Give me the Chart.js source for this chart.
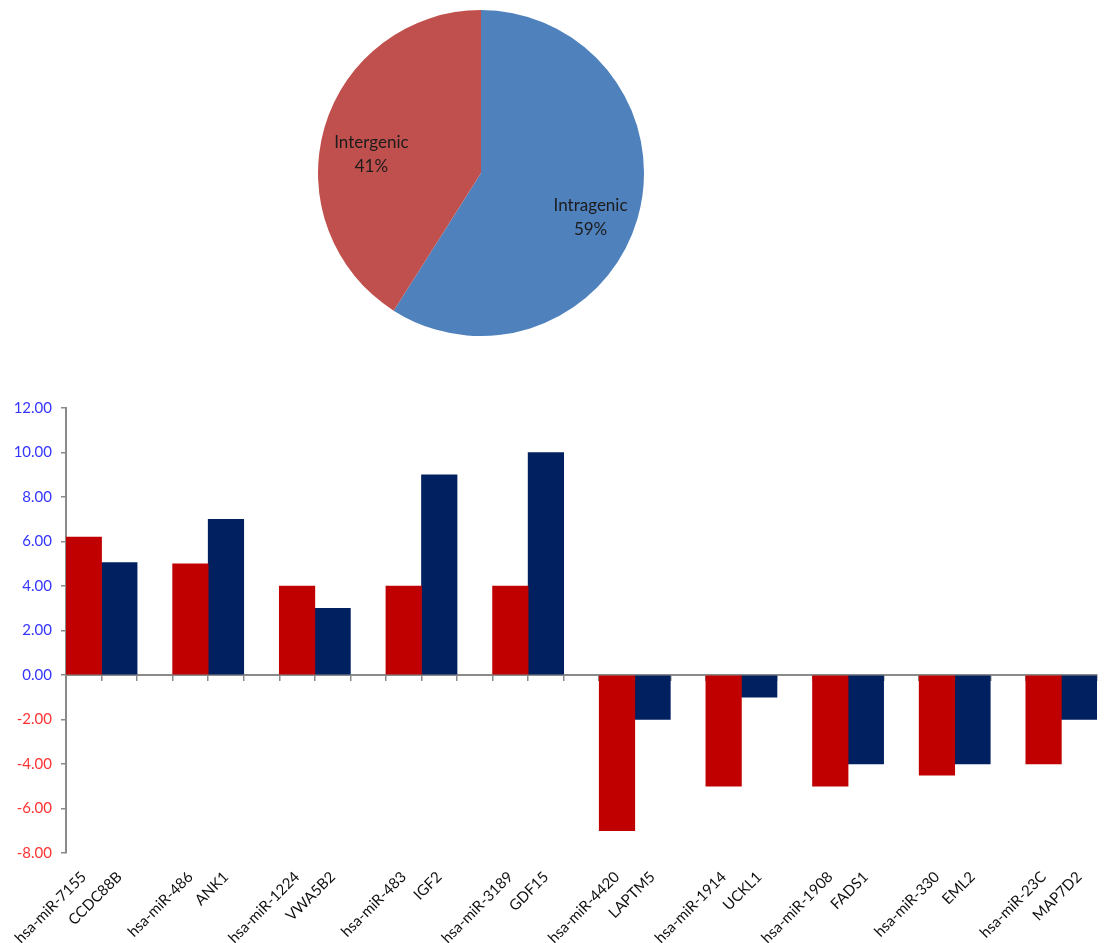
<!DOCTYPE html>
<html>
<head>
<meta charset="utf-8">
<title>miRNA genomic location and expression</title>
<script src="https://cdn.jsdelivr.net/npm/chart.js@4.4.1/dist/chart.umd.min.js"></script>
<style>
  html, body { margin: 0; padding: 0; background: #ffffff; }
  body { width: 1107px; height: 943px; position: relative; overflow: hidden; }
  #pieBox { position: absolute; left: 318px; top: 10px; width: 326px; height: 326px; }
  #barBox { position: absolute; left: 0; top: 390px; width: 1107px; height: 553px; }
</style>
</head>
<body>
<div id="pieBox"><canvas id="pie"></canvas></div>
<div id="barBox"><canvas id="bars"></canvas></div>
<script>
// Genomic location of the miRNAs
const locationLabels = ['Intragenic', 'Intergenic'];
const locationShares = [59, 41];

// Each miRNA with its host / target gene
const mirNames = ['hsa-miR-7155', 'hsa-miR-486', 'hsa-miR-1224', 'hsa-miR-483', 'hsa-miR-3189',
                  'hsa-miR-4420', 'hsa-miR-1914', 'hsa-miR-1908', 'hsa-miR-330', 'hsa-miR-23C'];
const geneNames = ['CCDC88B', 'ANK1', 'VWA5B2', 'IGF2', 'GDF15',
                   'LAPTM5', 'UCKL1', 'FADS1', 'EML2', 'MAP7D2'];
const mirValues  = [6.2, 5, 4, 4, 4, -7, -5, -5, -4.5, -4];
const geneValues = [5.05, 7, 3, 9, 10, -2, -1, -4, -4, -2];

// y-axis range
const yMin = -8, yMax = 12, yStep = 2;

const FONT = 'Lato, "Open Sans", sans-serif';

// Category slots: miRNA, gene, empty spacer ... (no spacer after the last pair)
const slotLabels = [];
const mirSeries = [];
const geneSeries = [];
mirNames.forEach((m, i) => {
  slotLabels.push(m, geneNames[i]);
  mirSeries.push(mirValues[i], null);
  geneSeries.push(null, geneValues[i]);
  if (i < mirNames.length - 1) {
    slotLabels.push('');
    mirSeries.push(null);
    geneSeries.push(null);
  }
});

// Labels inside the pie slices
const pieLabelPlugin = {
  id: 'pieLabels',
  afterDatasetsDraw(chart) {
    const ctx = chart.ctx;
    const meta = chart.getDatasetMeta(0);
    ctx.save();
    ctx.font = '17px ' + FONT;
    ctx.fillStyle = '#1c1c1c';
    ctx.textAlign = 'center';
    ctx.textBaseline = 'middle';
    meta.data.forEach((arc, i) => {
      const p = arc.getProps(['x', 'y', 'startAngle', 'endAngle', 'outerRadius'], true);
      const mid = (p.startAngle + p.endAngle) / 2;
      const r = p.outerRadius * 0.7;
      const cx = p.x + Math.cos(mid) * r;
      const cy = p.y + Math.sin(mid) * r + 13;
      ctx.fillText(locationLabels[i], cx, cy - 12);
      ctx.fillText(locationShares[i] + '%', cx, cy + 12);
    });
    ctx.restore();
  }
};

new Chart(document.getElementById('pie'), {
  type: 'pie',
  data: {
    labels: locationLabels,
    datasets: [{
      data: locationShares,
      backgroundColor: ['#4f81bd', '#c0504d'],
      borderWidth: 0
    }]
  },
  options: {
    responsive: true,
    maintainAspectRatio: false,
    animation: false,
    layout: { padding: 0 },
    plugins: { legend: { display: false }, tooltip: { enabled: false } }
  },
  plugins: [pieLabelPlugin]
});

const axisGray = '#8a8a8a';

new Chart(document.getElementById('bars'), {
  type: 'bar',
  data: {
    labels: slotLabels,
    datasets: [
      { label: 'miRNA', data: mirSeries, backgroundColor: '#c00000', borderWidth: 0,
        grouped: false, barPercentage: 1, categoryPercentage: 1 },
      { label: 'Gene', data: geneSeries, backgroundColor: '#002060', borderWidth: 0,
        grouped: false, barPercentage: 1, categoryPercentage: 1 }
    ]
  },
  options: {
    responsive: true,
    maintainAspectRatio: false,
    animation: false,
    layout: { padding: { top: 14, right: 8, left: 0, bottom: 0 } },
    plugins: { legend: { display: false }, tooltip: { enabled: false } },
    scales: {
      // category axis crossing at zero: line and tick marks only
      x: {
        type: 'category',
        position: { y: 0 },
        z: 1,
        offset: true,
        grid: { display: true, drawOnChartArea: false, drawTicks: true, tickLength: 5,
                color: axisGray, lineWidth: 1.5, offset: true },
        border: { display: true, color: axisGray, width: 2 },
        ticks: { display: false },
        afterFit(scale) { scale.height = 0; }
      },
      // category names along the bottom
      x2: {
        type: 'category',
        position: 'bottom',
        labels: slotLabels,
        offset: true,
        grid: { display: false, drawTicks: false },
        border: { display: false },
        ticks: {
          autoSkip: false, minRotation: 45, maxRotation: 45, padding: 15,
          color: '#111111', font: { family: FONT, size: 15 }
        },
        afterFit(scale) { scale.height = 90; }
      },
      y: {
        min: yMin, max: yMax,
        grid: { display: true, drawOnChartArea: false, drawTicks: true, tickLength: 5,
                color: axisGray, lineWidth: 1.5 },
        border: { display: true, color: axisGray, width: 2 },
        ticks: {
          stepSize: yStep, padding: 9,
          font: { family: FONT, size: 15 },
          color: (c) => (c.tick && c.tick.value < 0) ? '#ff3333' : '#3535ff',
          callback: (v) => Number(v).toFixed(2)
        },
        afterFit(scale) { scale.width = 66; }
      }
    }
  }
});
</script>
</body>
</html>
